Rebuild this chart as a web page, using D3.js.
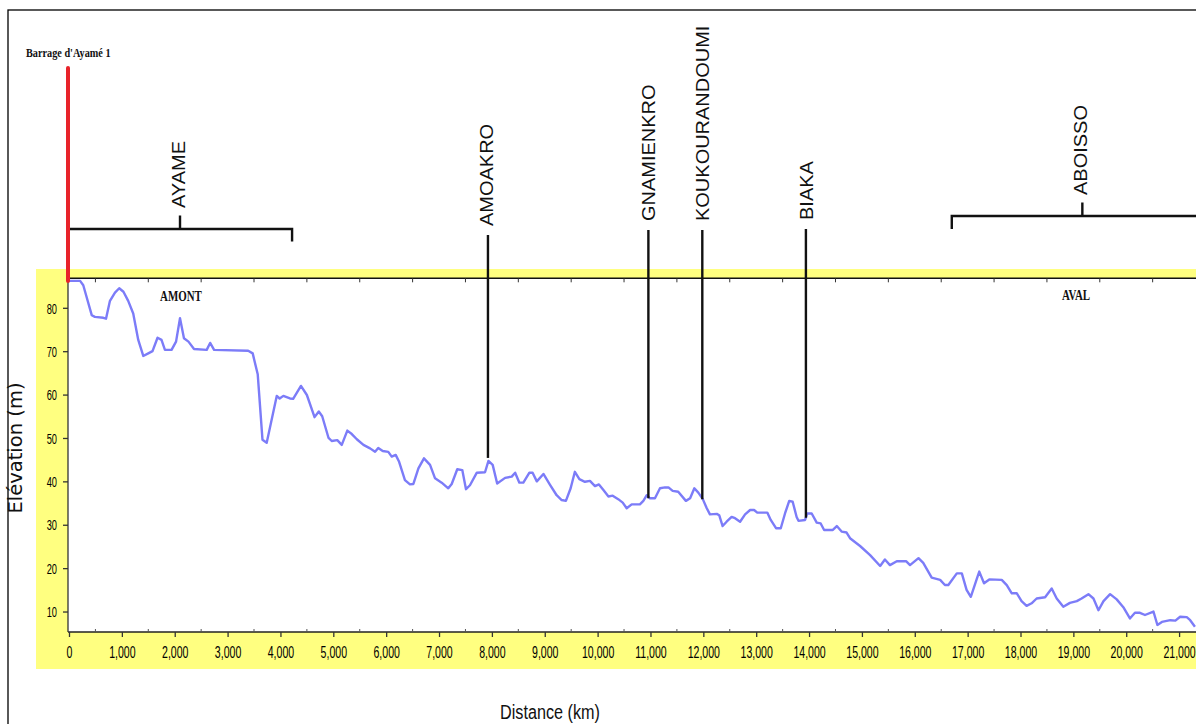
<!DOCTYPE html>
<html><head><meta charset="utf-8">
<script src="https://cdn.jsdelivr.net/npm/d3@7"></script>
<style>body{margin:0;background:#fff;} svg{display:block;}</style>
</head><body>
<svg id="chart" width="1196" height="724"></svg>
<script>
// ---------------- DATA ----------------
const distances = [0,210,270,430,490,650,700,775,870,950,1030,1120,1215,1310,1405,1500,1580,1675,1750,1815,1940,2025,2100,2175,2260,2365,2605,2670,2745,3390,3475,3570,3660,3740,3930,3985,4055,4180,4240,4388,4500,4645,4725,4790,4910,4970,5075,5160,5265,5350,5445,5570,5695,5790,5850,5935,6040,6105,6180,6245,6355,6450,6515,6610,6715,6830,6925,7050,7175,7240,7345,7440,7510,7585,7715,7870,7935,8015,8100,8250,8375,8440,8520,8595,8710,8770,8850,8975,9100,9225,9320,9400,9490,9570,9655,9760,9855,9950,10025,10110,10205,10285,10390,10475,10550,10645,10800,10865,10930,10990,11085,11180,11275,11340,11420,11525,11670,11750,11830,11905,11990,12065,12125,12255,12300,12365,12440,12535,12600,12695,12790,12885,12960,13020,13210,13275,13375,13465,13545,13625,13690,13765,13800,13925,13965,14050,14145,14220,14285,14450,14525,14620,14710,14775,14965,15155,15345,15435,15530,15660,15835,15910,16070,16160,16320,16480,16570,16635,16795,16890,16980,17060,17170,17220,17310,17410,17645,17740,17835,17930,18020,18115,18210,18305,18465,18590,18685,18810,18935,19065,19155,19285,19380,19475,19570,19695,19820,19945,20070,20165,20260,20355,20515,20590,20675,20835,20930,21020,21145,21210,21300];
const elevations = [86.2,86.2,85.2,78.3,77.9,77.7,77.5,81.6,83.5,84.5,83.7,81.6,78.7,72.6,68.9,69.5,70.0,73.1,72.6,70.3,70.3,72.2,77.6,73.0,72.2,70.5,70.3,71.9,70.3,70.1,69.5,64.7,49.6,48.9,59.7,59.1,59.7,59.1,59.0,62.0,59.9,54.8,56.1,55.0,50.0,49.3,49.5,48.4,51.7,50.9,49.7,48.4,47.6,46.8,47.7,47.0,46.8,45.7,46.1,44.5,40.3,39.3,39.4,43.0,45.3,43.8,40.7,39.7,38.4,39.4,42.8,42.6,38.2,39.1,42.0,42.1,44.7,43.8,39.5,40.8,41.1,42.0,39.7,39.7,42.0,42.0,40.0,41.7,39.2,36.8,35.7,35.5,38.4,42.2,40.5,39.9,40.1,38.9,39.3,38.0,36.5,36.7,35.9,35.1,33.8,34.7,34.7,35.5,36.8,36.1,36.1,38.4,38.6,38.6,37.8,37.6,35.5,36.1,38.4,37.4,35.9,33.8,32.4,32.5,32.2,29.7,30.7,31.8,31.5,30.7,32.4,33.4,33.4,32.8,32.8,31.1,29.2,29.2,32.6,35.5,35.3,31.8,30.9,31.1,32.6,32.6,30.5,30.3,28.8,28.8,29.7,28.4,28.2,26.9,25.1,23.0,20.5,22.0,20.7,21.6,21.6,20.7,22.3,21.2,17.8,17.3,16.1,16.1,18.8,18.8,15.0,13.4,17.4,19.2,16.5,17.4,17.3,16.1,14.2,14.2,12.4,11.3,11.9,13.0,13.3,15.3,13.0,11.1,12.0,12.4,13.0,14.0,13.0,10.3,12.4,14.0,12.8,11.0,8.4,9.7,9.7,9.2,10.0,6.9,7.6,8.0,7.9,8.8,8.7,8.0,6.5];
const xTickValues = d3.range(0, 21001, 1000);
const xMinorValues = d3.range(500, 21001, 1000);
const yTickValues = [10, 20, 30, 40, 50, 60, 70, 80];
const villages = ["AMOAKRO", "GNAMIENKRO", "KOUKOURANDOUMI", "BIAKA"];
const villageDist = [7935, 10970, 11990, 13950];
const villageElev = [45.4, 36.1, 35.9, 31.6];
const zones = ["AYAME", "ABOISSO"];
const zoneStart = [0, 16700];
const zoneEnd = [4220, 21400];
const zoneCenter = [2100, 19170];
const damName = "Barrage d'Ayamé 1";
const upstreamLabel = "AMONT";
const downstreamLabel = "AVAL";
const xTitle = "Distance (km)";
const yTitle = "Elévation (m)";
const xDomain = [0, 21320];
const yDomain = [5.28, 86.8];

// ---------------- LAYOUT ----------------
const W = 1196, H = 724;
const plotL = 68, plotR = 1196, plotT = 278.3, plotB = 632;
const villageTop = [235, 230, 230, 229];
const villageLabelShift = [-2, 0, 0, 0];
const zoneBarY = [229, 216];

const svg = d3.select("#chart");
const x = d3.scaleLinear().domain(xDomain).range([69, 1196]);
const y = d3.scaleLinear().domain(yDomain).range([plotB, plotT]);

// outer frame
svg.append("rect").attr("x", 8).attr("y", 10).attr("width", 1300).attr("height", 800)
  .attr("fill", "none").attr("stroke", "#000").attr("stroke-width", 1.3);

// yellow background
svg.append("rect").attr("x", 36).attr("y", 269).attr("width", W - 36).attr("height", 669 - 269)
  .attr("fill", "#ffff80");
// white plot
svg.append("rect").attr("x", plotL).attr("y", plotT).attr("width", plotR - plotL).attr("height", plotB - plotT)
  .attr("fill", "#fff");

svg.append("clipPath").attr("id", "clip").append("rect")
  .attr("x", plotL).attr("y", plotT - 2).attr("width", plotR - plotL).attr("height", plotB - plotT + 2);

// top line with half ticks
svg.append("line").attr("x1", plotL).attr("x2", plotR).attr("y1", plotT).attr("y2", plotT)
  .attr("stroke", "#111").attr("stroke-width", 1.6);
svg.append("g").selectAll("line").data(xMinorValues).join("line")
  .attr("x1", d => x(d)).attr("x2", d => x(d)).attr("y1", plotT).attr("y2", plotT + 4)
  .attr("stroke", "#333").attr("stroke-width", 1);

// bottom axis
const xAxis = d3.axisBottom(x).tickValues(xTickValues).tickSize(5).tickSizeOuter(0).tickFormat(d3.format(","));
const gx = svg.append("g").attr("transform", `translate(0,${plotB})`).call(xAxis);
gx.select(".domain").attr("stroke", "#222").attr("stroke-width", 1.6).attr("d", `M${plotL},0H${plotR}`);
gx.selectAll(".tick line").attr("stroke", "#333").attr("stroke-width", 1.3);
gx.selectAll(".tick text").attr("y", 26).attr("dy", 0)
  .attr("transform", "scale(0.64,1)")
  .attr("font-family", "'Liberation Sans', Arial, sans-serif").attr("font-size", 16.5).attr("fill", "#000");
svg.append("g").selectAll("line").data(xMinorValues).join("line")
  .attr("x1", d => x(d)).attr("x2", d => x(d)).attr("y1", plotB).attr("y2", plotB - 3)
  .attr("stroke", "#555").attr("stroke-width", 1);

// left axis
const yAxis = d3.axisLeft(y).tickValues(yTickValues).tickSize(5).tickSizeOuter(0);
const gy = svg.append("g").attr("transform", `translate(${plotL},0)`).call(yAxis);
gy.select(".domain").attr("stroke", "#333").attr("stroke-width", 1.3).attr("d", `M0,${plotT}V${plotB}`);
gy.selectAll(".tick line").attr("stroke", "#333").attr("stroke-width", 1.3);
gy.selectAll(".tick text").attr("x", -11 / 0.64).attr("dy", "0.36em")
  .attr("transform", "scale(0.64,1)")
  .attr("font-family", "'Liberation Sans', Arial, sans-serif").attr("font-size", 14.5).attr("fill", "#000");

// profile line
const line = d3.line().x(d => x(d[0])).y(d => y(d[1]));
svg.append("path").datum(distances.map((d, i) => [d, elevations[i]]))
  .attr("clip-path", "url(#clip)")
  .attr("d", line).attr("fill", "none").attr("stroke", "#7c7cf8").attr("stroke-width", 2.4)
  .attr("stroke-linejoin", "round");

// village markers
villages.forEach((name, i) => {
  const vx = x(villageDist[i]) - 0.5;
  svg.append("line").attr("x1", vx).attr("x2", vx)
    .attr("y1", villageTop[i]).attr("y2", y(villageElev[i]))
    .attr("stroke", "#111").attr("stroke-width", 2.4);
  svg.append("text").attr("transform", `translate(${vx + 6.8 + villageLabelShift[i]},${villageTop[i] - 9}) rotate(-90) scale(1,0.93)`)
    .attr("font-family", "'Liberation Sans', Arial, sans-serif").attr("font-size", 20).attr("fill", "#111")
    .text(name);
});

// zone brackets
zones.forEach((name, i) => {
  const by = zoneBarY[i];
  const xs = Math.max(x(zoneStart[i]), plotL + 2), xe = Math.min(x(zoneEnd[i]), W + 5), xc = x(zoneCenter[i]);
  const path = d3.path();
  if (i === 0) { path.moveTo(xs, by); path.lineTo(xe, by); path.lineTo(xe, by + 12.5); }
  else { path.moveTo(xs, by + 13); path.lineTo(xs, by); path.lineTo(xe, by); }
  path.moveTo(xc, by); path.lineTo(xc, by - 13.5);
  svg.append("path").attr("d", path.toString()).attr("fill", "none")
    .attr("stroke", "#111").attr("stroke-width", 2.4);
  svg.append("text").attr("transform", `translate(${xc + 5},${by - 21}) rotate(-90) scale(1,0.93)`)
    .attr("font-family", "'Liberation Sans', Arial, sans-serif").attr("font-size", 20).attr("fill", "#111")
    .text(name);
});

// dam
svg.append("line").attr("x1", x(0) - 1).attr("x2", x(0) - 1).attr("y1", 68).attr("y2", 281)
  .attr("stroke", "#e8232a").attr("stroke-width", 4).attr("stroke-linecap", "round");
svg.append("text").attr("transform", "translate(26,56.5) scale(0.82,1)")
  .attr("font-family", "'Liberation Serif', 'Times New Roman', serif").attr("font-weight", "bold")
  .attr("font-size", 12.5).attr("fill", "#111").text(damName);

// AMONT / AVAL
svg.append("text").attr("transform", "translate(160,300.5) scale(0.78,1)")
  .attr("font-family", "'Liberation Serif', 'Times New Roman', serif").attr("font-weight", "bold")
  .attr("font-size", 14).attr("fill", "#111").text(upstreamLabel);
svg.append("text").attr("transform", "translate(1062,300) scale(0.78,1)")
  .attr("font-family", "'Liberation Serif', 'Times New Roman', serif").attr("font-weight", "bold")
  .attr("font-size", 14).attr("fill", "#111").text(downstreamLabel);

// axis titles
svg.append("text").attr("transform", "translate(550,719) scale(0.81,1)")
  .attr("text-anchor", "middle")
  .attr("font-family", "'Liberation Sans', Arial, sans-serif").attr("font-size", 20).attr("fill", "#111")
  .text(xTitle);
svg.append("text").attr("transform", "translate(22,448) rotate(-90)")
  .attr("text-anchor", "middle")
  .attr("font-family", "'DejaVu Sans', Verdana, sans-serif").attr("font-size", 19.5).attr("fill", "#111")
  .text(yTitle);
</script>
</body></html>
